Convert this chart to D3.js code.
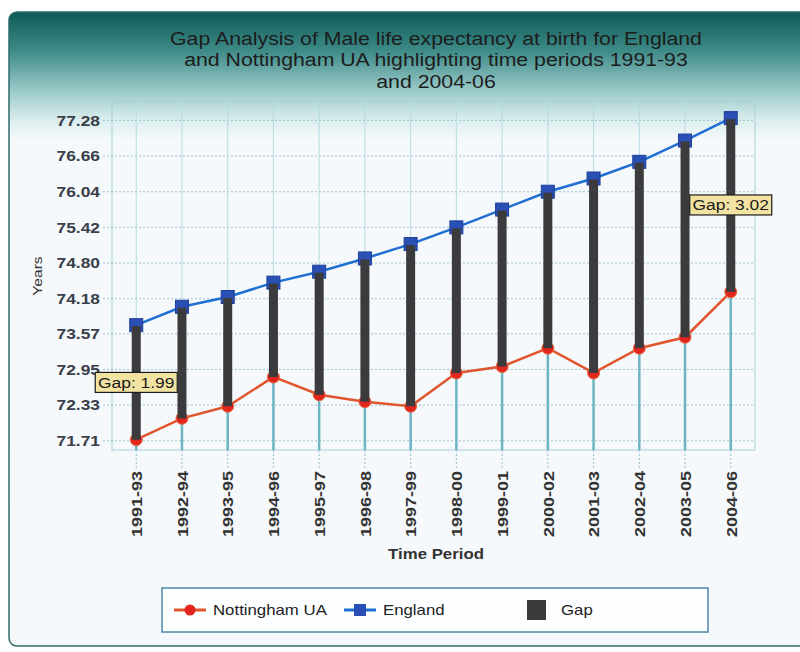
<!DOCTYPE html>
<html>
<head>
<meta charset="utf-8">
<script src="https://cdn.jsdelivr.net/npm/d3@7"></script>
<style>
  body { margin: 0; background: #fff; }
  svg { display: block; font-family: "Liberation Sans", Arial, sans-serif; }
</style>
</head>
<body>
<div id="chart"></div>
<script>
// data
const periods = ['1991-93', '1992-94', '1993-95', '1994-96', '1995-97', '1996-98', '1997-99',
  '1998-00', '1999-01', '2000-02', '2001-03', '2002-04', '2003-05', '2004-06'];
const nottingham = [71.73, 72.10, 72.31, 72.82, 72.51, 72.39, 72.31, 72.89, 73.00, 73.32, 72.89, 73.32, 73.51, 74.30];
const england = [73.72, 74.04, 74.21, 74.46, 74.65, 74.88, 75.13, 75.42, 75.73, 76.04, 76.27, 76.56, 76.93, 77.32];
const yTicks = [71.71, 72.33, 72.95, 73.57, 74.18, 74.80, 75.42, 76.04, 76.66, 77.28];
const gapLabels = ['1991-93', '2004-06'];

const width = 800;
const height = 652;
const plot = { left: 112, right: 755, top: 102, bottom: 450 };
// the original's lettering is drawn a little wider than Arial
const stretch = 'scale(1.2,1)';

const svg = d3.select('#chart')
  .append('svg')
  .attr('width', width)
  .attr('height', height);

const defs = svg.append('defs');
const grad = defs.append('linearGradient')
  .attr('id', 'panelGrad')
  .attr('gradientUnits', 'userSpaceOnUse')
  .attr('x1', 0).attr('y1', 12).attr('x2', 0).attr('y2', 140);
grad.append('stop').attr('offset', '0%').attr('stop-color', '#0e5a57');
grad.append('stop').attr('offset', '30%').attr('stop-color', '#3d8a87');
grad.append('stop').attr('offset', '62%').attr('stop-color', '#9ccbca');
grad.append('stop').attr('offset', '85%').attr('stop-color', '#dceeee');
grad.append('stop').attr('offset', '100%').attr('stop-color', '#f5f9fb');

// panel
svg.append('rect')
  .attr('x', 9).attr('y', 12)
  .attr('width', 820).attr('height', 634)
  .attr('rx', 8)
  .attr('fill', 'url(#panelGrad)')
  .attr('stroke', '#2f6b6c')
  .attr('stroke-width', 1.5);

// title
const title = ['Gap Analysis of Male life expectancy at birth for England',
  'and Nottingham UA highlighting time periods 1991-93',
  'and 2004-06'];
svg.append('g')
  .selectAll('text')
  .data(title)
  .enter()
  .append('text')
  .attr('transform', (d, i) => 'translate(436,' + (44.5 + i * 21.5) + ') scale(1.12,1)')
  .attr('text-anchor', 'middle')
  .attr('font-size', 19)
  .attr('fill', '#1c1c1c')
  .text(d => d);

const x = d3.scalePoint()
  .domain(periods)
  .range([plot.left, plot.right])
  .padding(0.53);

const y = d3.scaleLinear()
  .domain([71.55, 77.60])
  .range([plot.bottom, plot.top]);

// plot frame
svg.append('rect')
  .attr('x', plot.left).attr('y', plot.top)
  .attr('width', plot.right - plot.left)
  .attr('height', plot.bottom - plot.top)
  .attr('fill', 'none')
  .attr('stroke', '#a9d0da')
  .attr('stroke-width', 1);

// horizontal grid (dotted, runs out to the labels)
svg.append('g')
  .selectAll('line')
  .data(yTicks)
  .enter()
  .append('line')
  .attr('x1', 103).attr('x2', plot.right)
  .attr('y1', d => y(d)).attr('y2', d => y(d))
  .attr('stroke', '#9fc3d3')
  .attr('stroke-width', 1)
  .attr('stroke-dasharray', '2,2');

// vertical grid
svg.append('g')
  .selectAll('line')
  .data(periods)
  .enter()
  .append('line')
  .attr('x1', d => x(d)).attr('x2', d => x(d))
  .attr('y1', plot.top).attr('y2', plot.bottom)
  .attr('stroke', '#b5dbe2')
  .attr('stroke-width', 1);

// dotted tick continuation below the plot
svg.append('g')
  .selectAll('line')
  .data(periods)
  .enter()
  .append('line')
  .attr('x1', d => x(d)).attr('x2', d => x(d))
  .attr('y1', plot.bottom).attr('y2', plot.bottom + 18)
  .attr('stroke', '#8fc0cc')
  .attr('stroke-width', 1)
  .attr('stroke-dasharray', '2,2');

// drop lines from Nottingham points
svg.append('g')
  .selectAll('line')
  .data(periods)
  .enter()
  .append('line')
  .attr('x1', d => x(d)).attr('x2', d => x(d))
  .attr('y1', (d, i) => y(nottingham[i])).attr('y2', plot.bottom)
  .attr('stroke', '#6db4c4')
  .attr('stroke-width', 2.5);

// y axis labels
const yAxis = d3.axisLeft(y)
  .tickValues(yTicks)
  .tickFormat(d3.format('.2f'))
  .tickSize(0)
  .tickPadding(0);
const yAxisG = svg.append('g')
  .attr('transform', 'translate(100,0)')
  .call(yAxis);
yAxisG.select('.domain').remove();
yAxisG.selectAll('text')
  .attr('font-family', '"Liberation Sans", Arial, sans-serif')
  .attr('font-size', 14.5)
  .attr('font-weight', 'bold')
  .attr('fill', '#3a3f4a')
  .attr('transform', stretch);

svg.append('text')
  .attr('transform', 'translate(42,276) rotate(-90) ' + stretch)
  .attr('text-anchor', 'middle')
  .attr('font-size', 13)
  .attr('fill', '#333')
  .text('Years');

// x axis labels
const xAxis = d3.axisBottom(x).tickSize(0).tickPadding(0);
const xAxisG = svg.append('g')
  .attr('transform', 'translate(0,' + (plot.bottom + 21) + ')')
  .call(xAxis);
xAxisG.select('.domain').remove();
xAxisG.selectAll('text')
  .attr('font-family', '"Liberation Sans", Arial, sans-serif')
  .attr('font-size', 15)
  .attr('font-weight', 'bold')
  .attr('fill', '#333')
  .attr('text-anchor', 'end')
  .attr('dy', '0.35em')
  .attr('y', 0)
  .attr('transform', 'rotate(-90) ' + stretch);

svg.append('text')
  .attr('transform', 'translate(436,559) ' + stretch)
  .attr('text-anchor', 'middle')
  .attr('font-size', 14)
  .attr('font-weight', 'bold')
  .attr('fill', '#333')
  .text('Time Period');

// lines
const lineN = d3.line().x((d, i) => x(periods[i])).y(d => y(d));
svg.append('path')
  .datum(nottingham)
  .attr('d', lineN)
  .attr('fill', 'none')
  .attr('stroke', '#e0552d')
  .attr('stroke-width', 2.5);
svg.append('path')
  .datum(england)
  .attr('d', lineN)
  .attr('fill', 'none')
  .attr('stroke', '#1f6fd2')
  .attr('stroke-width', 2.5);

// markers
svg.append('g')
  .selectAll('circle')
  .data(nottingham)
  .enter()
  .append('circle')
  .attr('cx', (d, i) => x(periods[i]))
  .attr('cy', d => y(d))
  .attr('r', 6)
  .attr('fill', '#e3261d')
  .attr('stroke', '#e86a40')
  .attr('stroke-width', 1);
svg.append('g')
  .selectAll('rect')
  .data(england)
  .enter()
  .append('rect')
  .attr('x', (d, i) => x(periods[i]) - 6.5)
  .attr('y', d => y(d) - 6.5)
  .attr('width', 13)
  .attr('height', 13)
  .attr('fill', '#2a4fb5')
  .attr('stroke', '#1d3f9a')
  .attr('stroke-width', 1);

// gap bars
svg.append('g')
  .selectAll('rect')
  .data(periods)
  .enter()
  .append('rect')
  .attr('x', d => x(d) - 4.5)
  .attr('y', (d, i) => y(england[i]) + 1)
  .attr('width', 9)
  .attr('height', (d, i) => y(nottingham[i]) - y(england[i]) - 1)
  .attr('fill', '#3b3b3d');

// gap labels
const gapG = svg.append('g')
  .selectAll('g')
  .data(gapLabels)
  .enter()
  .append('g')
  .attr('transform', d => {
    const i = periods.indexOf(d);
    return 'translate(' + x(d) + ',' + (y(england[i]) + y(nottingham[i])) / 2 + ')';
  });
gapG.append('rect')
  .attr('x', -41).attr('y', -10)
  .attr('width', 82).attr('height', 20)
  .attr('fill', '#f3e3a2')
  .attr('stroke', '#1a1a1a')
  .attr('stroke-width', 1.2);
gapG.append('text')
  .attr('text-anchor', 'middle')
  .attr('dy', '0.36em')
  .attr('font-size', 14.5)
  .attr('fill', '#1a1a1a')
  .attr('transform', stretch)
  .text(d => {
    const i = periods.indexOf(d);
    return 'Gap: ' + (england[i] - nottingham[i]).toFixed(2);
  });

// legend
const legend = svg.append('g').attr('transform', 'translate(162,588)');
legend.append('rect')
  .attr('width', 546).attr('height', 44)
  .attr('fill', '#fdfeff')
  .attr('stroke', '#4f86a8')
  .attr('stroke-width', 1.5);
const legendItems = [
  { name: 'Nottingham UA', type: 'circle', color: '#e0552d', mark: '#e3261d', x: 12 },
  { name: 'England', type: 'square', color: '#1f6fd2', mark: '#2a4fb5', x: 182 },
  { name: 'Gap', type: 'bar', color: '#3b3b3d', mark: '#3b3b3d', x: 363 }
];
const li = legend.selectAll('.item')
  .data(legendItems)
  .enter()
  .append('g')
  .attr('class', 'item')
  .attr('transform', d => 'translate(' + d.x + ',22)');
li.filter(d => d.type !== 'bar').append('line')
  .attr('x1', 0).attr('x2', 32)
  .attr('stroke', d => d.color)
  .attr('stroke-width', 3);
li.filter(d => d.type === 'circle').append('circle')
  .attr('cx', 16).attr('r', 5.5)
  .attr('fill', d => d.mark);
li.filter(d => d.type === 'square').append('rect')
  .attr('x', 10).attr('y', -6)
  .attr('width', 12).attr('height', 12)
  .attr('fill', d => d.mark);
li.filter(d => d.type === 'bar').append('rect')
  .attr('x', 2).attr('y', -10)
  .attr('width', 19).attr('height', 20)
  .attr('fill', d => d.mark);
li.append('text')
  .attr('transform', d => 'translate(' + (d.type === 'bar' ? 36 : 39) + ',0) ' + stretch)
  .attr('dy', '0.35em')
  .attr('font-size', 14)
  .attr('fill', '#222')
  .text(d => d.name);
</script>
</body>
</html>
